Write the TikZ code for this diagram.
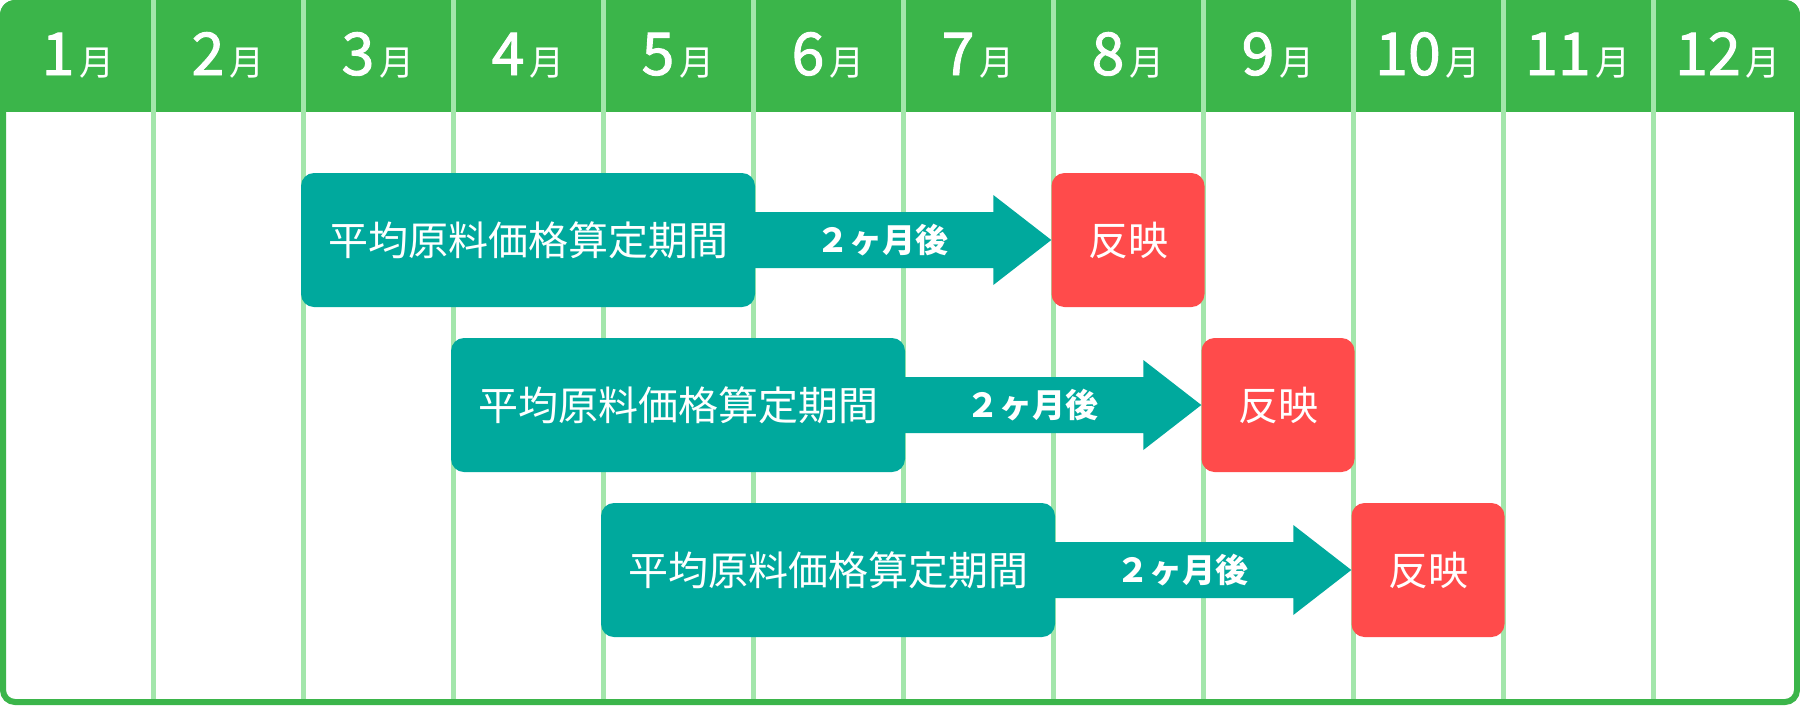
\documentclass[tikz,border=0pt]{standalone}
\usepackage{fontspec}
\setmainfont{Noto Sans CJK JP}
\newfontfamily\numfont[FakeBold=1.6]{Noto Sans CJK JP}
\usetikzlibrary{calc}
\definecolor{hdr}{HTML}{3BB54A}
\definecolor{gridc}{HTML}{A3E6AB}
\definecolor{tealbox}{HTML}{00A99D}
\definecolor{redbox}{HTML}{FF4B4B}
\tikzset{
  period/.style={fill=tealbox, rounded corners=13pt, minimum width=454pt, minimum height=134pt, inner sep=0pt, text=white, font=\fontsize{40}{40}\selectfont},
  reflect/.style={fill=redbox, rounded corners=13pt, minimum width=153pt, minimum height=134pt, inner sep=0pt, text=white, font=\fontsize{40}{40}\selectfont},
  lag/.style={text=white, inner sep=0pt, font=\bfseries\fontsize{33}{33}\selectfont},
  month/.style={text=white, inner sep=0pt, anchor=base},
  gridline/.style={gridc, line width=5pt}
}
\begin{document}
\begin{tikzpicture}[x=1pt,y=-1pt]
\useasboundingbox (0,0) rectangle (1800,705);
\begin{scope}
\clip[rounded corners=15pt] (0,0) rectangle (1800,705);
\fill[white] (0,0) rectangle (1800,705);
\fill[hdr] (0,0) rectangle (1800,112);
\end{scope}
\draw[hdr, line width=6pt, rounded corners=12pt] (3,3) rectangle (1797,702);
\foreach \i in {1,...,11} \draw[gridline] ({3+150*\i},0) -- ({3+150*\i},699);
\foreach \m in {1,...,12}
  \node[month] (m\m) at ({78+150*(\m-1)},75) {{\numfont\fontsize{59}{59}\selectfont \m}\hspace{5pt}{\fontsize{35}{35}\selectfont 月}};
\foreach \r in {1,2,3} {
  \node[period] (b\r) at ({528+150*(\r-1)},{240+165*(\r-1)}) {平均原料価格算定期間};
  \node[reflect] (r\r) at ({1128+150*(\r-1)},{240+165*(\r-1)}) {反映};
  \fill[tealbox] ($(b\r.east)+(-10,-28)$) -- ($(r\r.west)+(-58,-28)$) -- ($(r\r.west)+(-58,-45)$) -- (r\r.west) -- ($(r\r.west)+(-58,45)$) -- ($(r\r.west)+(-58,28)$) -- ($(b\r.east)+(-10,28)$) -- cycle;
  \node[lag] (l\r) at ($(b\r.east)!0.43!(r\r.west)$) {２ヶ月後};
}
\end{tikzpicture}
\end{document}
